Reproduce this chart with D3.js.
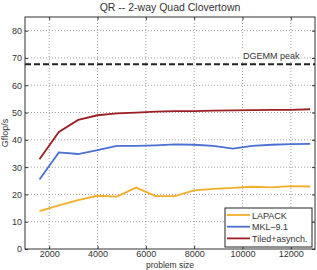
<!DOCTYPE html>
<html><head><meta charset="utf-8">
<script src="https://cdn.jsdelivr.net/npm/d3@7"></script>
<style>body{margin:0;background:#fff}svg{display:block}text{font-family:"Liberation Sans",Arial,sans-serif;fill:#333}</style>
</head><body>
<script>
const sizes = [1600,2400,3200,4000,4800,5600,6400,7200,8000,8800,9600,10400,11200,12000,12800];
const lapack = [13.9,16.0,17.9,19.5,19.2,22.5,19.4,19.4,21.5,22.0,22.4,22.8,22.6,23.0,22.9];
const mkl = [25.5,35.4,34.8,36.2,37.8,37.8,38.0,38.3,38.2,37.8,36.8,37.8,38.2,38.4,38.5];
const tiled = [32.9,42.9,47.3,49.0,49.7,50.0,50.3,50.5,50.5,50.7,50.8,50.9,51.0,51.0,51.2];
const dgemmPeak = 67.7;
const xTicks = [2000,4000,6000,8000,10000,12000];
const yTicks = [0,10,20,30,40,50,60,70,80];
const seriesNames = ["LAPACK","MKL\u20139.1","Tiled+asynch."];
const seriesColors = ["#f5ad2a","#4a6fd2","#9c1f24"];
const seriesData = [lapack, mkl, tiled];

const W=317,H=270, L=25, R=315, T=17, B=249;
const svg=d3.select("body").append("svg").attr("width",W).attr("height",H);
const x=d3.scaleLinear().domain([1000,13000]).range([L,R]);
const y=d3.scaleLinear().domain([0,85]).range([B,T]);
const fmt=d3.format("d");

// grid
const g=svg.append("g");
g.selectAll(".vg").data(xTicks).join("line").attr("x1",d=>x(d)).attr("x2",d=>x(d)).attr("y1",T).attr("y2",B)
 .attr("stroke","#888").attr("stroke-width",0.8).attr("stroke-dasharray","1,2");
g.selectAll(".hg").data(yTicks.filter(d=>d>0)).join("line").attr("x1",L).attr("x2",R).attr("y1",d=>y(d)).attr("y2",d=>y(d))
 .attr("stroke","#888").attr("stroke-width",0.8).attr("stroke-dasharray","1,2");

// axes
const xa=svg.append("g").attr("transform",`translate(0,${B})`).call(d3.axisBottom(x).tickValues(xTicks).tickFormat(fmt).tickSizeInner(-3).tickSizeOuter(0).tickPadding(2));
const xt=svg.append("g").attr("transform",`translate(0,${T})`).call(d3.axisTop(x).tickValues(xTicks).tickSizeInner(-3).tickSizeOuter(0).tickFormat(""));
const ya=svg.append("g").attr("transform",`translate(${L},0)`).call(d3.axisLeft(y).tickValues(yTicks).tickFormat(fmt).tickSizeInner(-3).tickSizeOuter(0).tickPadding(3));
const yr=svg.append("g").attr("transform",`translate(${R},0)`).call(d3.axisRight(y).tickValues(yTicks).tickSizeInner(-3).tickSizeOuter(0).tickFormat(""));
[xa,xt,ya,yr].forEach(a=>{a.select(".domain").remove();a.selectAll("line").attr("stroke","#333");a.selectAll("text").attr("font-size",9).attr("fill","#333").attr("font-family","Liberation Sans, Arial, sans-serif");});
svg.append("rect").attr("x",L).attr("y",T).attr("width",R-L).attr("height",B-T).attr("fill","none").attr("stroke","#333").attr("stroke-width",1);

// DGEMM peak
svg.append("rect").attr("x",241).attr("y",y(dgemmPeak)-14).attr("width",60).attr("height",11).attr("fill","#fff");
svg.append("text").attr("x",243).attr("y",y(dgemmPeak)-5.5).attr("font-size",9).text("DGEMM peak");
svg.append("line").attr("x1",L).attr("x2",R).attr("y1",y(dgemmPeak)).attr("y2",y(dgemmPeak))
 .attr("stroke","#222").attr("stroke-width",2).attr("stroke-dasharray","6,3");

// series
const line=d3.line().x((d,i)=>x(sizes[i])).y(d=>y(d));
seriesData.forEach((s,k)=>{
  svg.append("path").datum(s).attr("d",line).attr("fill","none").attr("stroke",seriesColors[k]).attr("stroke-width",1.8);
});

// legend
const lg=svg.append("g");
lg.append("rect").attr("x",225).attr("y",208).attr("width",87).attr("height",39).attr("fill","#fff").attr("stroke","#222").attr("stroke-width",1);
seriesNames.forEach((n,k)=>{
  const yy=215+k*11.7;
  lg.append("line").attr("x1",227).attr("x2",250).attr("y1",yy).attr("y2",yy).attr("stroke",seriesColors[k]).attr("stroke-width",1.8);
  lg.append("text").attr("x",252).attr("y",yy+3.5).attr("font-size",9).text(n);
});

// labels
svg.append("text").attr("x",(L+R)/2).attr("y",11).attr("text-anchor","middle").attr("font-size",10.5).text("QR -- 2-way Quad Clovertown");
svg.append("text").attr("x",(L+R)/2).attr("y",267.5).attr("text-anchor","middle").attr("font-size",8.5).text("problem size");
svg.append("text").attr("transform",`translate(8,${(T+B)/2}) rotate(-90)`).attr("text-anchor","middle").attr("font-size",9).text("Gflop/s");
</script>
</body></html>
